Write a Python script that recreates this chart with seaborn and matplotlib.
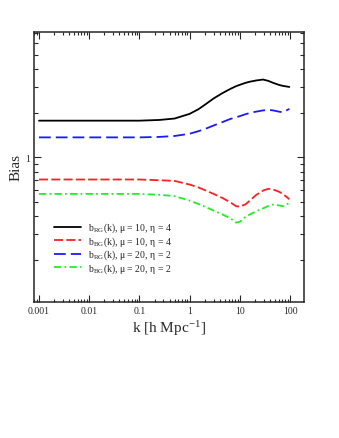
import matplotlib
matplotlib.use("Agg")
import matplotlib.pyplot as plt
import seaborn as sns
import numpy as np

# ============================================================================
# DATA
# ============================================================================

k_vals = [0.001, 0.01, 0.1, 0.25, 0.5, 1, 1.5, 2, 3, 4.5, 6.5, 8.5, 10, 13, 16, 21, 29, 37, 46, 60, 72, 97]

b_rg_mu10 = [1.78, 1.78, 1.78, 1.80, 1.84, 1.98, 2.13, 2.28, 2.52, 2.74, 2.93, 3.06, 3.12, 3.22, 3.28, 3.34, 3.39, 3.32, 3.22, 3.12, 3.07, 3.02]
b_bg_mu10 = [0.708, 0.708, 0.708, 0.70, 0.693, 0.654, 0.625, 0.60, 0.565, 0.53, 0.495, 0.465, 0.463, 0.48, 0.51, 0.555, 0.595, 0.612, 0.605, 0.585, 0.565, 0.52]
b_rg_mu20 = [1.37, 1.37, 1.37, 1.38, 1.40, 1.45, 1.51, 1.56, 1.65, 1.74, 1.83, 1.88, 1.91, 1.97, 2.01, 2.05, 2.09, 2.11, 2.09, 2.05, 2.03, 2.14]
b_bg_mu20 = [0.565, 0.565, 0.565, 0.557, 0.546, 0.509, 0.482, 0.463, 0.435, 0.41, 0.385, 0.36, 0.365, 0.395, 0.41, 0.43, 0.45, 0.468, 0.478, 0.472, 0.466, 0.49]

labels = [
    r"b$_{\mathregular{RG}}$(k), μ = 10, η = 4",
    r"b$_{\mathregular{BG}}$(k), μ = 10, η = 4",
    r"b$_{\mathregular{RG}}$(k), μ = 20, η = 2",
    r"b$_{\mathregular{BG}}$(k), μ = 20, η = 2",
]

# ============================================================================
# STYLE
# ============================================================================

sns.set_style("ticks")
plt.rcParams["font.family"] = ["Liberation Serif", "DejaVu Serif"]
plt.rcParams["mathtext.fontset"] = "stix"

series = [b_rg_mu10, b_bg_mu10, b_rg_mu20, b_bg_mu20]
colors = ["black", "#ff2020", "#1a1aff", "#22ee22"]
styles = ["-", (0, (5, 1.8)), (0, (6.5, 2.8)), (0, (4, 1.8, 1, 1.8))]

fig = plt.figure(figsize=(3.39, 4.39), dpi=100)
ax = fig.add_axes([0.1003, 0.31, 0.7965, 0.615])

for vals, col, ls, lab in zip(series, colors, styles, labels):
    sns.lineplot(x=k_vals, y=vals, ax=ax, color=col, linestyle=ls, lw=1.3, label=lab)

ax.set_xscale("log")
ax.set_yscale("log")
ax.set_xlim(0.000795, 190)
ax.set_ylim(0.104, 7.15)

ax.set_xticks([0.001, 0.01, 0.1, 1, 10, 100])
ax.set_xticklabels(["0.001", "0.01", "0.1", "1", "10", "100"])
ax.set_yticks([1])
ax.set_yticklabels(["1"])

ax.tick_params(which="both", direction="in", top=True, right=True, labelsize=7, width=0.8)
ax.tick_params(which="major", length=5, pad=3)
ax.tick_params(which="minor", length=2.5)
ax.tick_params(axis="y", which="minor", length=3)
ax.yaxis.set_minor_formatter(matplotlib.ticker.NullFormatter())

for sp in ax.spines.values():
    sp.set_linewidth(1.1)

ax.set_xlabel(r"k [h Mpc$^{\mathregular{-1}}$]", fontsize=11, labelpad=2)
ax.set_ylabel("Bias", fontsize=11, labelpad=2)

ax.legend(loc="center left", bbox_to_anchor=(0.074, 0.2), frameon=False, fontsize=7,
          borderpad=0, borderaxespad=0, handlelength=2.8, labelspacing=0.0,
          handletextpad=0.7)

fig.savefig("out.png", dpi=100)
